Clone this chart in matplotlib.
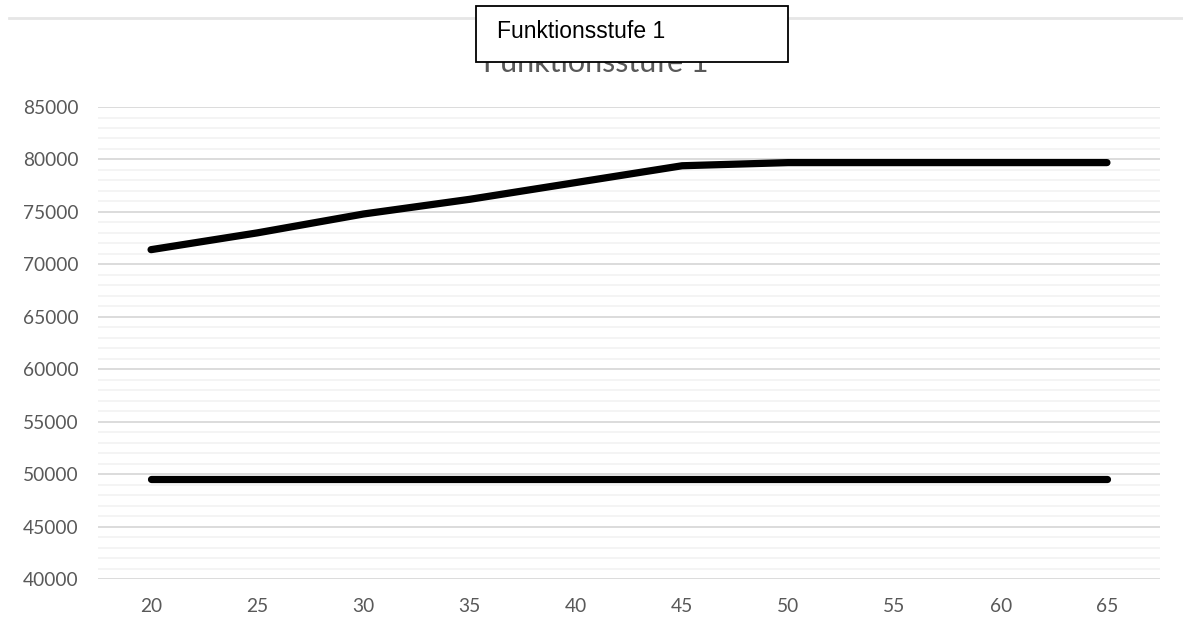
import numpy as np
import matplotlib.pyplot as plt
from matplotlib.patches import Rectangle
from matplotlib.lines import Line2D
from matplotlib.ticker import MultipleLocator

# Altersstufen und Gehaltskurven
ages = [20, 25, 30, 35, 40, 45, 50, 55, 60, 65]
upper = [71400, 73000, 74800, 76200, 77800, 79400, 79700, 79700, 79700, 79700]
lower = [49500, 49500, 49500, 49500, 49500, 49500, 49500, 49500, 49500, 49500]
title = "Funktionsstufe 1"

grey = "#595959"
fig = plt.figure(figsize=(11.83, 6.28), dpi=100)
ax = fig.add_axes([0.0828, 0.078, 0.8978, 0.7516])

x = np.arange(len(ages))
for series in (upper, lower):
    ax.plot(x, series, color="black", lw=5.2, solid_capstyle="round", zorder=3)

ax.set_xlim(-0.5, len(ages) - 0.5)
ax.set_ylim(40000, 85000)
ax.set_xticks(x)
ax.set_xticklabels([str(a) for a in ages])
ax.yaxis.set_major_locator(MultipleLocator(5000))
ax.yaxis.set_minor_locator(MultipleLocator(1000))
ax.grid(axis="y", which="major", color="#d9d9d9", lw=1.3)
ax.grid(axis="y", which="minor", color="#f2f2f2", lw=1.2)
ax.set_axisbelow(True)
for s in ax.spines.values():
    s.set_visible(False)
ax.tick_params(which="both", length=0)
ax.tick_params(axis="y", pad=14)
ax.tick_params(axis="x", pad=14)
for lab in ax.get_xticklabels() + ax.get_yticklabels():
    lab.set_fontfamily("Lato")
    lab.set_fontsize(13.8)
    lab.set_color(grey)

# Diagrammtitel (teilweise vom Kasten verdeckt)
fig.text(596 / 1183, 1 - 72 / 628, title, ha="center", va="baseline",
         fontsize=22, family="Lato", color=grey)

# Rahmenlinie oben
fig.add_artist(Line2D([9 / 1183, 1.0], [1 - 18 / 628] * 2, color="#e6e6e6", lw=2))

# Textkasten
box = Rectangle((476 / 1183, 1 - 62 / 628), 312 / 1183, 56 / 628,
                transform=fig.transFigure, facecolor="white", edgecolor="black",
                lw=1.3, zorder=5)
fig.add_artist(box)
fig.text(497 / 1183, 1 - 31 / 628, title, ha="left", va="center",
         fontsize=16.5, family="Liberation Sans", color="black", zorder=6)

fig.savefig("out.png", dpi=100)
